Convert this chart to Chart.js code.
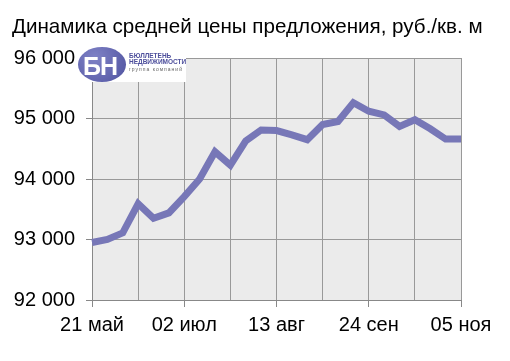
<!DOCTYPE html>
<html>
<head>
<meta charset="utf-8">
<script src="https://cdn.jsdelivr.net/npm/chart.js@4/dist/chart.umd.min.js"></script>
<style>
  body { margin: 0; background: #fff; }
  #wrap { position: relative; width: 510px; height: 361px; }
  #title { position: absolute; left: 12px; top: 14px; font: 20.6px "Liberation Sans", Arial, sans-serif; color: #000; white-space: nowrap; }
  #logo { position: absolute; left: 78px; top: 47px; width: 108px; height: 35px; background: #fff; }
  #logo .circ { position: absolute; left: 0; top: 0; width: 48px; height: 35px; border-radius: 50%;
    background: radial-gradient(circle at 35% 30%, #7f82c6, #4f529f); }
  #logo .bn { position: absolute; left: 5px; top: 5px; font: bold 25px "Liberation Sans", Arial, sans-serif; color: #fff; letter-spacing: -1px; }
  #logo .t1, #logo .t2 { position: absolute; left: 51px; font: bold 6.5px "Liberation Sans", Arial, sans-serif; color: #4d4f9c; white-space: nowrap; }
  #logo .t1 { top: 5px; }
  #logo .t2 { top: 11px; }
  #logo .t3 { position: absolute; left: 51px; top: 19px; font: 5px "Liberation Sans", Arial, sans-serif; color: #666; letter-spacing: 1px; white-space: nowrap; }
</style>
</head>
<body>
<div id="wrap">
  <canvas id="myChart" width="510" height="361"></canvas>
  <div id="title">Динамика средней цены предложения, руб./кв. м</div>
  <div id="logo">
    <div class="circ"></div>
    <div class="bn">БН</div>
    <div class="t1">БЮЛЛЕТЕНЬ</div>
    <div class="t2">НЕДВИЖИМОСТИ</div>
    <div class="t3">группа компаний</div>
  </div>
</div>
<script>
let dates = ["21 май", "28 май", "04 июн", "11 июн", "18 июн", "25 июн", "02 июл", "09 июл", "16 июл",
  "23 июл", "30 июл", "06 авг", "13 авг", "20 авг", "27 авг", "03 сен", "10 сен", "17 сен", "24 сен",
  "01 окт", "08 окт", "15 окт", "22 окт", "29 окт", "05 ноя"];
let prices = [92950, 93000, 93110, 93590, 93350, 93440, 93710, 94000, 94450, 94230, 94630, 94810,
  94800, 94730, 94650, 94900, 94950, 95260, 95120, 95060, 94870, 94980, 94830, 94660, 94660];
let yTicks = [92000, 93000, 94000, 95000, 96000];

let plotBg = {
  id: "plotBg",
  beforeDraw(chart) {
    let a = chart.chartArea, ctx = chart.ctx;
    ctx.save();
    ctx.fillStyle = "#ebebeb";
    ctx.fillRect(a.left, a.top, a.right - a.left, a.bottom - a.top);
    ctx.restore();
  }
};

let ctx = document.getElementById("myChart").getContext("2d");
let myChart = new Chart(ctx, {
  type: "line",
  data: {
    labels: dates,
    datasets: [{
      data: prices,
      borderColor: "#7777b7",
      borderWidth: 7,
      pointRadius: 0,
      tension: 0,
      borderJoinStyle: "miter"
    }]
  },
  options: {
    responsive: false,
    animation: false,
    layout: { padding: { left: 0, right: 49, top: 58, bottom: 0 } },
    plugins: { legend: { display: false }, tooltip: { enabled: false } },
    scales: {
      x: {
        offset: false,
        border: { color: "#888", width: 1 },
        grid: {
          color: (c) => (c.index % 3 === 0 ? "#999" : "rgba(0,0,0,0)"),
          tickColor: (c) => (c.index % 6 === 0 ? "#888" : "rgba(0,0,0,0)"),
          tickLength: 7
        },
        ticks: {
          autoSkip: false,
          maxRotation: 0,
          padding: 6,
          color: "#000",
          font: { family: "Liberation Sans", size: 20 },
          callback: function (v, i) { return i % 6 === 0 ? dates[i] : ""; }
        },
        afterFit: (s) => { s.height = 61; }
      },
      y: {
        min: 92000,
        max: 96000,
        afterBuildTicks: (s) => { s.ticks = yTicks.map((v) => ({ value: v })); },
        border: { color: "#888", width: 1 },
        grid: { color: "#999", tickLength: 6, tickColor: "#888" },
        ticks: {
          padding: 11,
          color: "#000",
          font: { family: "Liberation Sans", size: 20 },
          callback: (v) => String(v).replace(/(\d+)(\d{3})$/, "$1 $2")
        },
        afterFit: (s) => { s.width = 92; }
      }
    }
  },
  plugins: [plotBg]
});
</script>
</body>
</html>
